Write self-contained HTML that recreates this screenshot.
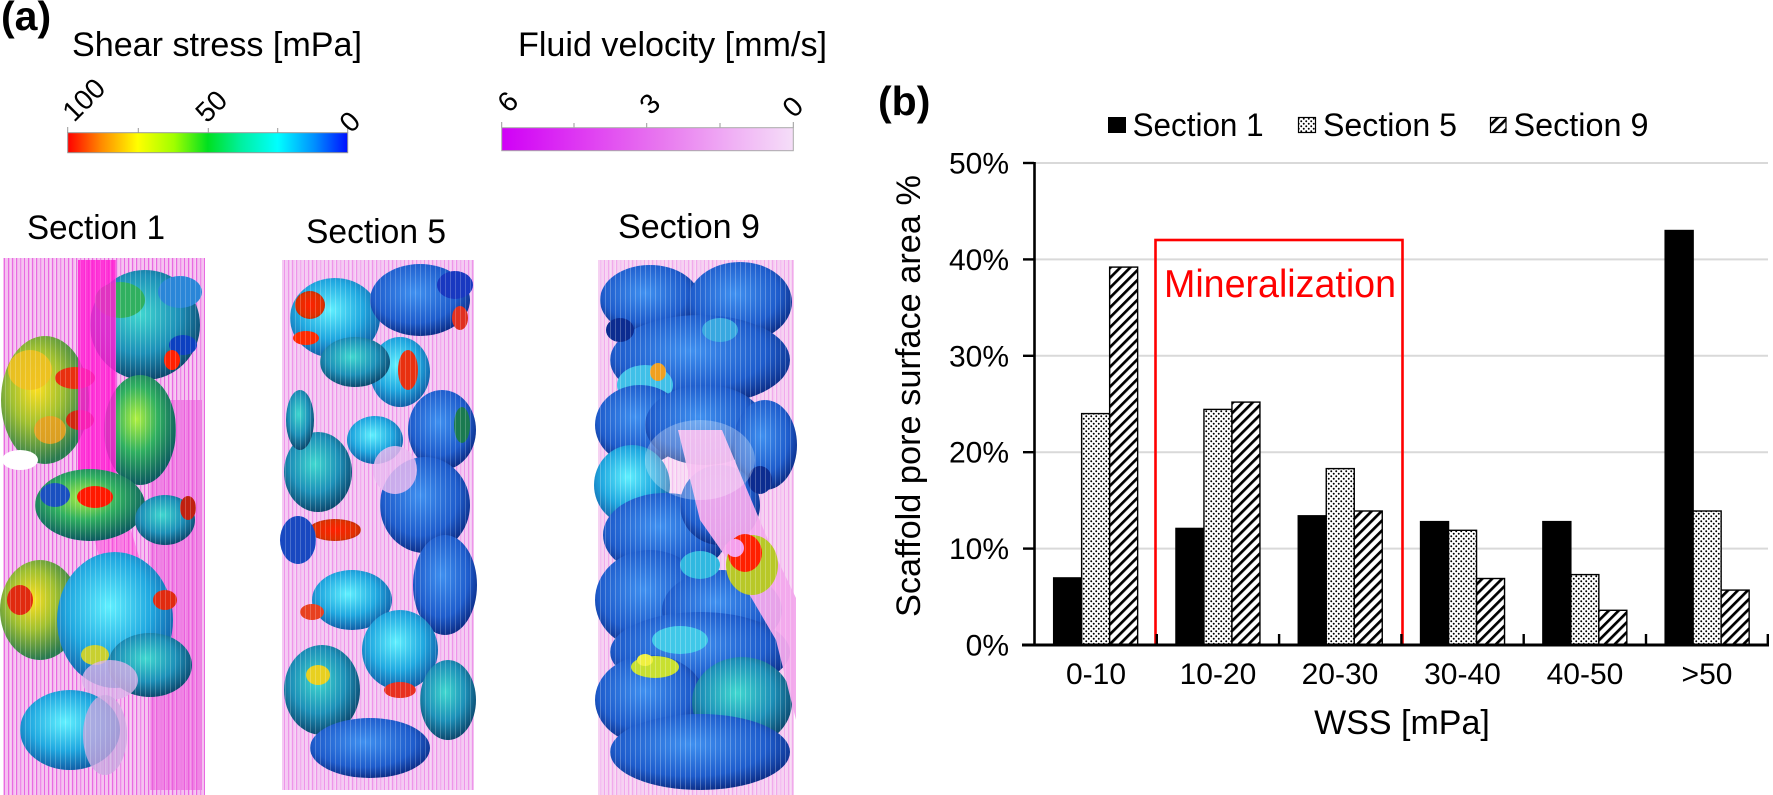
<!DOCTYPE html>
<html><head><meta charset="utf-8"><style>
html,body{margin:0;padding:0;background:#fff;}
body{width:1773px;height:795px;overflow:hidden;}
svg{display:block;font-family:"Liberation Sans",Arial,sans-serif;}
</style></head><body>
<svg width="1773" height="795" viewBox="0 0 1773 795" xmlns="http://www.w3.org/2000/svg">
<defs>
<linearGradient id="cb1" x1="0" x2="1" y1="0" y2="0">
<stop offset="0" stop-color="#ff0000"/><stop offset="0.12" stop-color="#ff8a00"/><stop offset="0.25" stop-color="#ffff00"/><stop offset="0.38" stop-color="#a0ff00"/><stop offset="0.5" stop-color="#00e020"/><stop offset="0.62" stop-color="#00f0a0"/><stop offset="0.75" stop-color="#00ffff"/><stop offset="0.88" stop-color="#0090ff"/><stop offset="1" stop-color="#0010ff"/>
</linearGradient>
<linearGradient id="cb2" x1="0" x2="1" y1="0" y2="0">
<stop offset="0" stop-color="#d000f6"/><stop offset="0.3" stop-color="#e040f2"/><stop offset="0.55" stop-color="#e878ef"/><stop offset="0.8" stop-color="#f0b2f5"/><stop offset="1" stop-color="#f5def8"/>
</linearGradient>
<pattern id="dots" width="5" height="5" patternUnits="userSpaceOnUse"><rect width="5" height="5" fill="#fff"/><circle cx="1.25" cy="1.25" r="0.95" fill="#000"/><circle cx="3.75" cy="3.75" r="0.95" fill="#000"/></pattern>
<pattern id="hatch" width="7" height="7" patternUnits="userSpaceOnUse" patternTransform="rotate(45)"><rect width="7" height="7" fill="#fff"/><rect width="2.7" height="7" fill="#000"/></pattern>
<pattern id="st" width="4" height="8" patternUnits="userSpaceOnUse"><rect width="1.2" height="8" fill="#e860e0"/></pattern>
<pattern id="stw" width="5" height="8" patternUnits="userSpaceOnUse"><rect width="1" height="8" fill="#ffffff" opacity="0.7"/></pattern>
<radialGradient id="gBlue" cx="0.45" cy="0.4" r="0.6"><stop offset="0" stop-color="#3f90f0"/><stop offset="0.7" stop-color="#1e5ccc"/><stop offset="1" stop-color="#0c2f8a"/></radialGradient>
<radialGradient id="gCyan" cx="0.45" cy="0.4" r="0.6"><stop offset="0" stop-color="#60f0ff"/><stop offset="0.6" stop-color="#20a8e0"/><stop offset="1" stop-color="#1060a8"/></radialGradient>
<radialGradient id="gTeal" cx="0.45" cy="0.4" r="0.6"><stop offset="0" stop-color="#40d8d0"/><stop offset="0.6" stop-color="#1c90b8"/><stop offset="1" stop-color="#0c4a70"/></radialGradient>
<radialGradient id="gGreen" cx="0.45" cy="0.4" r="0.6"><stop offset="0" stop-color="#b0f040"/><stop offset="0.5" stop-color="#30b060"/><stop offset="1" stop-color="#0c5a60"/></radialGradient>
<radialGradient id="gYel" cx="0.4" cy="0.4" r="0.6"><stop offset="0" stop-color="#ffe020"/><stop offset="0.5" stop-color="#a0c030"/><stop offset="1" stop-color="#2a7a50"/></radialGradient>
<radialGradient id="gRed" cx="0.5" cy="0.5" r="0.6"><stop offset="0" stop-color="#ff2000"/><stop offset="0.7" stop-color="#e03000"/><stop offset="1" stop-color="#a02810"/></radialGradient>
</defs>

<!-- ===== Panel (a) header ===== -->
<text x="1" y="30" font-size="41" font-weight="bold">(a)</text>
<text x="72" y="56" font-size="34" textLength="290" lengthAdjust="spacingAndGlyphs">Shear stress [mPa]</text>
<text x="518" y="56" font-size="34" textLength="309" lengthAdjust="spacingAndGlyphs">Fluid velocity [mm/s]</text>

<!-- colorbar 1 -->
<g stroke="#999" stroke-width="1">
<line x1="67.7" y1="127" x2="67.7" y2="133"/><line x1="138.3" y1="128" x2="138.3" y2="133"/><line x1="208.3" y1="128" x2="208.3" y2="133"/><line x1="277.7" y1="128" x2="277.7" y2="133"/><line x1="347.7" y1="127" x2="347.7" y2="133"/>
</g>
<rect x="67.7" y="132.7" width="280" height="20" fill="url(#cb1)" stroke="#999" stroke-width="1"/>
<text font-size="28" transform="translate(74,123) rotate(-45)">100</text>
<text font-size="28" transform="translate(207,124) rotate(-45)">50</text>
<text font-size="28" transform="translate(351,134) rotate(-45)">0</text>

<!-- colorbar 2 -->
<g stroke="#999" stroke-width="1">
<line x1="501.7" y1="122" x2="501.7" y2="128"/><line x1="574" y1="123" x2="574" y2="128"/><line x1="646.7" y1="123" x2="646.7" y2="128"/><line x1="720" y1="123" x2="720" y2="128"/><line x1="793.3" y1="122" x2="793.3" y2="128"/>
</g>
<rect x="501.7" y="127.7" width="291.6" height="23" fill="url(#cb2)" stroke="#aaa" stroke-width="1"/>
<text font-size="28" transform="translate(509,114) rotate(-45)">6</text>
<text font-size="28" transform="translate(651,116) rotate(-45)">3</text>
<text font-size="28" transform="translate(794,119) rotate(-45)">0</text>

<text x="27" y="239" font-size="34" textLength="138" lengthAdjust="spacingAndGlyphs">Section 1</text>
<text x="306" y="243" font-size="34" textLength="140" lengthAdjust="spacingAndGlyphs">Section 5</text>
<text x="618" y="238" font-size="34" textLength="142" lengthAdjust="spacingAndGlyphs">Section 9</text>

<!-- ===== Section 1 image ===== -->
<g>
<rect x="3" y="258" width="202" height="537" fill="#f5c2f0"/>
<rect x="3" y="258" width="202" height="537" fill="url(#st)" opacity="0.9"/>
<rect x="150" y="400" width="52" height="390" fill="#ec5cdc" opacity="0.6"/>
<ellipse cx="145" cy="325" rx="55" ry="55" fill="url(#gTeal)"/>
<ellipse cx="120" cy="300" rx="25" ry="18" fill="#30b060"/>
<ellipse cx="180" cy="292" rx="22" ry="16" fill="#2a86d8"/>
<ellipse cx="183" cy="345" rx="14" ry="10" fill="#0c40c0"/>
<ellipse cx="45" cy="400" rx="44" ry="64" fill="url(#gYel)"/>
<ellipse cx="30" cy="370" rx="22" ry="20" fill="#f0c020" opacity="0.9"/>
<ellipse cx="50" cy="430" rx="16" ry="14" fill="#e8a020" opacity="0.9"/>
<ellipse cx="75" cy="378" rx="20" ry="11" fill="#e83010"/>
<ellipse cx="80" cy="420" rx="14" ry="10" fill="#d02810"/>
<ellipse cx="20" cy="460" rx="18" ry="10" fill="#ffffff"/>
<ellipse cx="140" cy="430" rx="36" ry="55" fill="url(#gGreen)"/>
<ellipse cx="172" cy="360" rx="8" ry="10" fill="#ff2000"/>
<rect x="78" y="260" width="38" height="225" fill="#ff1ed2" opacity="0.85"/>
<polygon points="78,480 116,480 140,560 100,560" fill="#ff40d8" opacity="0.5"/>
<ellipse cx="90" cy="505" rx="55" ry="36" fill="url(#gGreen)"/>
<ellipse cx="95" cy="497" rx="18" ry="11" fill="#ff1800"/>
<ellipse cx="55" cy="495" rx="15" ry="12" fill="#1a50c0"/>
<ellipse cx="165" cy="520" rx="30" ry="25" fill="url(#gTeal)"/>
<ellipse cx="188" cy="508" rx="8" ry="12" fill="#c02010"/>
<ellipse cx="40" cy="610" rx="40" ry="50" fill="url(#gYel)"/>
<ellipse cx="20" cy="600" rx="13" ry="15" fill="#e02a10"/>
<ellipse cx="115" cy="620" rx="58" ry="68" fill="url(#gCyan)"/>
<ellipse cx="150" cy="665" rx="42" ry="32" fill="url(#gTeal)"/>
<ellipse cx="165" cy="600" rx="12" ry="10" fill="#e02a10"/>
<ellipse cx="95" cy="655" rx="14" ry="10" fill="#c8d030"/>
<ellipse cx="110" cy="680" rx="28" ry="20" fill="#d8b0e8" opacity="0.8"/>
<ellipse cx="70" cy="730" rx="50" ry="40" fill="url(#gCyan)"/>
<ellipse cx="105" cy="735" rx="22" ry="40" fill="#c8a8e0" opacity="0.8"/>
<rect x="3" y="258" width="202" height="537" fill="url(#stw)" opacity="0.3"/>
</g>

<!-- ===== Section 5 image ===== -->
<g>
<rect x="282" y="260" width="192" height="530" fill="#f4caf3"/>
<rect x="282" y="260" width="192" height="530" fill="url(#st)" opacity="0.5"/>
<ellipse cx="335" cy="318" rx="45" ry="40" fill="url(#gCyan)"/>
<ellipse cx="420" cy="300" rx="50" ry="36" fill="url(#gBlue)"/>
<ellipse cx="455" cy="285" rx="18" ry="14" fill="#1838c0"/>
<ellipse cx="310" cy="305" rx="15" ry="14" fill="url(#gRed)"/>
<ellipse cx="306" cy="338" rx="13" ry="7" fill="#ff2a00"/>
<ellipse cx="460" cy="318" rx="8" ry="12" fill="#e03020"/>
<ellipse cx="400" cy="372" rx="30" ry="35" fill="url(#gCyan)"/>
<ellipse cx="408" cy="370" rx="10" ry="20" fill="#e83010"/>
<ellipse cx="355" cy="362" rx="35" ry="25" fill="url(#gTeal)"/>
<ellipse cx="442" cy="430" rx="34" ry="40" fill="url(#gBlue)"/>
<ellipse cx="462" cy="425" rx="8" ry="18" fill="#1a7a50"/>
<ellipse cx="375" cy="440" rx="28" ry="24" fill="url(#gCyan)"/>
<ellipse cx="318" cy="472" rx="34" ry="40" fill="url(#gTeal)"/>
<ellipse cx="425" cy="505" rx="45" ry="48" fill="url(#gBlue)"/>
<ellipse cx="395" cy="470" rx="22" ry="24" fill="#e8b8f0" opacity="0.85"/>
<ellipse cx="335" cy="530" rx="26" ry="11" fill="url(#gRed)"/>
<ellipse cx="298" cy="540" rx="18" ry="24" fill="#1848c0"/>
<ellipse cx="445" cy="585" rx="32" ry="50" fill="url(#gBlue)"/>
<ellipse cx="352" cy="600" rx="40" ry="30" fill="url(#gCyan)"/>
<ellipse cx="312" cy="612" rx="12" ry="8" fill="#e84020"/>
<ellipse cx="322" cy="690" rx="38" ry="45" fill="url(#gTeal)"/>
<ellipse cx="318" cy="675" rx="12" ry="10" fill="#e8d020"/>
<ellipse cx="400" cy="650" rx="38" ry="40" fill="url(#gCyan)"/>
<ellipse cx="448" cy="700" rx="28" ry="40" fill="url(#gTeal)"/>
<ellipse cx="370" cy="748" rx="60" ry="30" fill="url(#gBlue)"/>
<ellipse cx="300" cy="420" rx="14" ry="30" fill="url(#gTeal)"/>
<ellipse cx="400" cy="690" rx="16" ry="8" fill="#e83020"/>
<rect x="282" y="260" width="192" height="530" fill="url(#stw)" opacity="0.3"/>
</g>

<!-- ===== Section 9 image ===== -->
<g>
<rect x="598" y="260" width="196" height="535" fill="#f6d2f2"/>
<rect x="598" y="260" width="196" height="535" fill="url(#st)" opacity="0.35"/>
<ellipse cx="650" cy="300" rx="50" ry="35" fill="url(#gBlue)"/>
<ellipse cx="740" cy="302" rx="52" ry="40" fill="url(#gBlue)"/>
<ellipse cx="700" cy="360" rx="90" ry="45" fill="url(#gBlue)"/>
<ellipse cx="645" cy="385" rx="28" ry="20" fill="#40c0e8"/>
<ellipse cx="640" cy="425" rx="45" ry="40" fill="url(#gBlue)"/>
<ellipse cx="705" cy="425" rx="60" ry="40" fill="url(#gBlue)"/>
<ellipse cx="765" cy="445" rx="32" ry="45" fill="url(#gBlue)"/>
<ellipse cx="632" cy="485" rx="38" ry="40" fill="url(#gCyan)"/>
<ellipse cx="665" cy="535" rx="62" ry="42" fill="url(#gBlue)"/>
<ellipse cx="720" cy="505" rx="40" ry="40" fill="url(#gBlue)"/>
<ellipse cx="650" cy="600" rx="55" ry="50" fill="url(#gBlue)"/>
<ellipse cx="722" cy="610" rx="60" ry="40" fill="url(#gBlue)"/>
<ellipse cx="700" cy="652" rx="90" ry="40" fill="url(#gBlue)"/>
<ellipse cx="650" cy="700" rx="55" ry="45" fill="url(#gBlue)"/>
<ellipse cx="742" cy="702" rx="50" ry="45" fill="url(#gTeal)"/>
<ellipse cx="700" cy="752" rx="90" ry="38" fill="url(#gBlue)"/>
<ellipse cx="680" cy="640" rx="28" ry="14" fill="#40c8e8"/>
<ellipse cx="700" cy="565" rx="20" ry="14" fill="#30b8e0"/>
<ellipse cx="720" cy="330" rx="18" ry="12" fill="#38a8e0"/>
<ellipse cx="620" cy="330" rx="14" ry="12" fill="#0c2c90"/>
<ellipse cx="760" cy="480" rx="12" ry="14" fill="#0c2c90"/>
<ellipse cx="658" cy="372" rx="8" ry="9" fill="#f0a020"/>
<ellipse cx="655" cy="667" rx="24" ry="11" fill="#c8e030"/>
<ellipse cx="645" cy="660" rx="8" ry="6" fill="#f0f040"/>
<polygon points="678,430 722,430 768,540 796,598 796,720 776,640 735,570 700,520" fill="#f2a8ec" opacity="0.95"/>
<ellipse cx="752" cy="565" rx="26" ry="30" fill="#b8c828"/>
<ellipse cx="745" cy="553" rx="17" ry="19" fill="#ff2000"/>
<ellipse cx="735" cy="548" rx="9" ry="9" fill="#f5a0ec"/>
<ellipse cx="700" cy="460" rx="55" ry="40" fill="#ffffff" opacity="0.28"/>
<rect x="598" y="260" width="196" height="535" fill="url(#stw)" opacity="0.35"/>
</g>

<!-- ===== Panel (b) chart ===== -->
<text x="878" y="115" font-size="41" font-weight="bold">(b)</text>

<!-- legend -->
<rect x="1108" y="117" width="18" height="16" fill="#000"/>
<text x="1132.6" y="136" font-size="32" textLength="131" lengthAdjust="spacingAndGlyphs">Section 1</text>
<rect x="1298.5" y="117.5" width="17" height="15" fill="url(#dots)" stroke="#000" stroke-width="1.2"/>
<text x="1323" y="136" font-size="32" textLength="134" lengthAdjust="spacingAndGlyphs">Section 5</text>
<rect x="1490.5" y="117.5" width="15.5" height="15" fill="url(#hatch)" stroke="#000" stroke-width="1.2"/>
<text x="1513.5" y="136" font-size="32" textLength="135" lengthAdjust="spacingAndGlyphs">Section 9</text>

<!-- gridlines -->
<g stroke="#d9d9d9" stroke-width="2">
<line x1="1034" y1="163" x2="1768" y2="163"/>
<line x1="1034" y1="259.4" x2="1768" y2="259.4"/>
<line x1="1034" y1="355.8" x2="1768" y2="355.8"/>
<line x1="1034" y1="452.2" x2="1768" y2="452.2"/>
<line x1="1034" y1="548.6" x2="1768" y2="548.6"/>
</g>

<!-- mineralization box -->
<rect x="1155.5" y="240" width="247" height="405" fill="none" stroke="#ff0000" stroke-width="2.6"/>
<text x="1164" y="297" font-size="39" fill="#ff0000" textLength="232" lengthAdjust="spacingAndGlyphs">Mineralization</text>

<!-- bars -->
<g stroke="#000" stroke-width="1.4">
<rect x="1053.65" y="577.9" width="28" height="67.1" fill="#000"/>
<rect x="1081.65" y="413.6" width="28" height="231.4" fill="url(#dots)"/>
<rect x="1109.65" y="267.1" width="28" height="377.9" fill="url(#hatch)"/>
<rect x="1175.95" y="528.4" width="28" height="116.6" fill="#000"/>
<rect x="1203.95" y="409.4" width="28" height="235.6" fill="url(#dots)"/>
<rect x="1231.95" y="402.1" width="28" height="242.9" fill="url(#hatch)"/>
<rect x="1298.25" y="515.8" width="28" height="129.2" fill="#000"/>
<rect x="1326.25" y="468.6" width="28" height="176.4" fill="url(#dots)"/>
<rect x="1354.25" y="511" width="28" height="134" fill="url(#hatch)"/>
<rect x="1420.55" y="521.6" width="28" height="123.4" fill="#000"/>
<rect x="1448.55" y="530.3" width="28" height="114.7" fill="url(#dots)"/>
<rect x="1476.55" y="578.5" width="28" height="66.5" fill="url(#hatch)"/>
<rect x="1542.85" y="521.6" width="28" height="123.4" fill="#000"/>
<rect x="1570.85" y="574.6" width="28" height="70.4" fill="url(#dots)"/>
<rect x="1598.85" y="610.3" width="28" height="34.7" fill="url(#hatch)"/>
<rect x="1665.15" y="230.5" width="28" height="414.5" fill="#000"/>
<rect x="1693.15" y="511" width="28" height="134" fill="url(#dots)"/>
<rect x="1721.15" y="590.1" width="28" height="54.9" fill="url(#hatch)"/>
</g>

<!-- axes -->
<g stroke="#000">
<line x1="1034.5" y1="162" x2="1034.5" y2="646" stroke-width="2.6"/>
<line x1="1022" y1="645" x2="1769" y2="645" stroke-width="3"/>
<g stroke-width="2.4">
<line x1="1023" y1="163" x2="1034" y2="163"/>
<line x1="1023" y1="259.4" x2="1034" y2="259.4"/>
<line x1="1023" y1="355.8" x2="1034" y2="355.8"/>
<line x1="1023" y1="452.2" x2="1034" y2="452.2"/>
<line x1="1023" y1="548.6" x2="1034" y2="548.6"/>
<line x1="1156.8" y1="634" x2="1156.8" y2="645"/>
<line x1="1279.1" y1="634" x2="1279.1" y2="645"/>
<line x1="1401.4" y1="634" x2="1401.4" y2="645"/>
<line x1="1523.7" y1="634" x2="1523.7" y2="645"/>
<line x1="1646" y1="634" x2="1646" y2="645"/>
<line x1="1767.8" y1="634" x2="1767.8" y2="645"/>
</g>
</g>

<!-- y tick labels -->
<g font-size="30" text-anchor="end">
<text x="1009" y="173.5">50%</text>
<text x="1009" y="269.9">40%</text>
<text x="1009" y="366.3">30%</text>
<text x="1009" y="462.7">20%</text>
<text x="1009" y="559.1">10%</text>
<text x="1009" y="655.5">0%</text>
</g>

<!-- x labels -->
<g font-size="30" text-anchor="middle">
<text x="1096" y="684">0-10</text>
<text x="1218" y="684">10-20</text>
<text x="1340" y="684">20-30</text>
<text x="1462.5" y="684">30-40</text>
<text x="1585" y="684">40-50</text>
<text x="1707" y="684">&gt;50</text>
</g>
<text x="1402" y="734" font-size="34" text-anchor="middle">WSS [mPa]</text>
<text font-size="34" text-anchor="middle" transform="translate(920,396) rotate(-90)" textLength="442" lengthAdjust="spacingAndGlyphs">Scaffold pore surface area %</text>
</svg>
</body></html>
